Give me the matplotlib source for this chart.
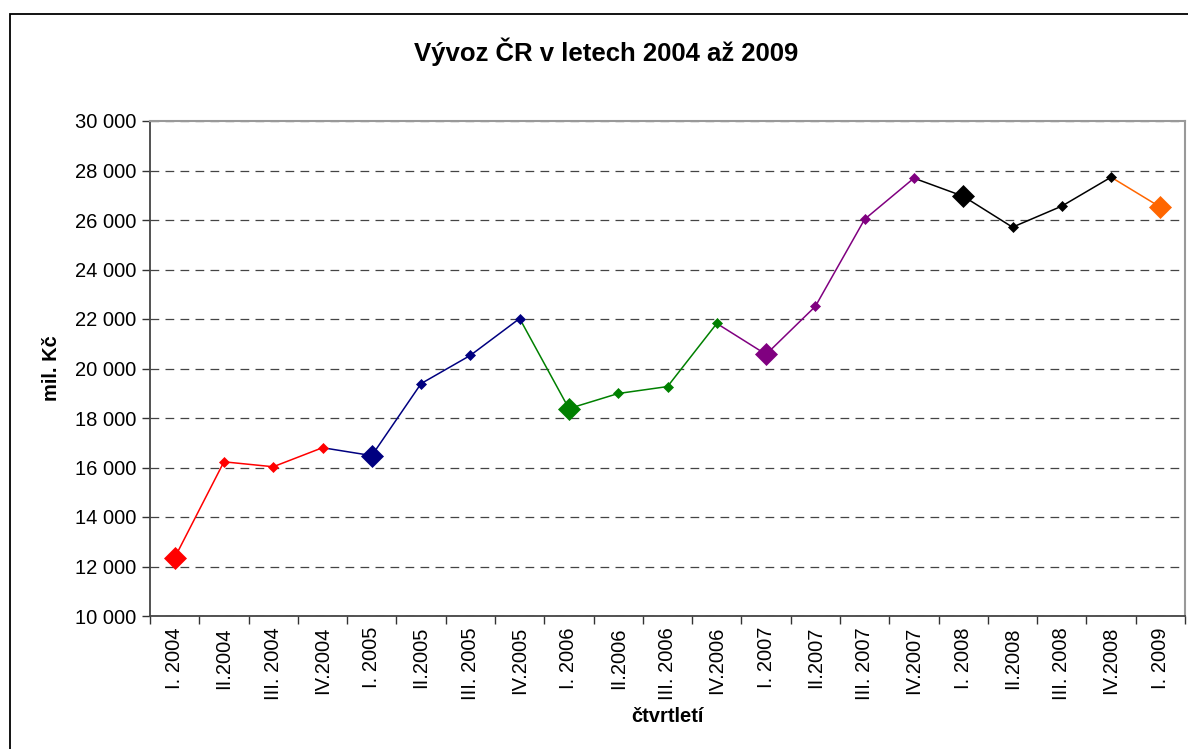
import matplotlib.pyplot as plt
import matplotlib.patches as patches
from matplotlib.ticker import FuncFormatter, MultipleLocator

plt.rcParams['font.family'] = ['Liberation Sans', 'DejaVu Sans']

quarters = ['I. 2004', 'II.2004', 'III. 2004', 'IV.2004',
            'I. 2005', 'II.2005', 'III. 2005', 'IV.2005',
            'I. 2006', 'II.2006', 'III. 2006', 'IV.2006',
            'I. 2007', 'II.2007', 'III. 2007', 'IV.2007',
            'I. 2008', 'II.2008', 'III. 2008', 'IV.2008',
            'I. 2009']
vyvoz = [12350, 16230, 16030, 16800,
         16480, 19390, 20530, 22020,
         18380, 18990, 19270, 21820,
         20570, 22510, 26030, 27690,
         26960, 25710, 26560, 27730,
         26520]
years = [2004] * 4 + [2005] * 4 + [2006] * 4 + [2007] * 4 + [2008] * 4 + [2009]
year_colors = {2004: '#FF0000', 2005: '#000080', 2006: '#008000',
               2007: '#800080', 2008: '#000000', 2009: '#FF6600'}

fig = plt.figure(figsize=(11.88, 7.49), dpi=100)
ax = fig.add_axes([150 / 1188, 1 - 616 / 749, 1035 / 1188, 495 / 749])

x = list(range(len(quarters)))

# lines: segment into a point takes the colour of that point's year
for yr, col in year_colors.items():
    idx = [i for i in x if years[i] == yr]
    start = max(idx[0] - 1, 0)
    seg = list(range(start, idx[-1] + 1))
    ax.plot(seg, [vyvoz[i] for i in seg], color=col, lw=1.1, zorder=3)

# markers: big diamond for the first quarter of each year
for i in x:
    col = year_colors[years[i]]
    big = quarters[i].startswith('I. ')
    ax.plot(i, vyvoz[i], marker='D', ms=11 if big else 5.2, color=col,
            mec=col, mew=0.5, zorder=4)

ax.set_xlim(-0.5, len(quarters) - 0.5)
ax.set_ylim(10000, 30000)
ax.yaxis.set_major_locator(MultipleLocator(2000))
ax.yaxis.set_major_formatter(FuncFormatter(lambda v, p: f'{int(v):,}'.replace(',', ' ')))
ax.grid(axis='y', color='#444444', ls=(0, (7, 5)), lw=0.9)
ax.set_axisbelow(True)

ax.set_xticks(x)
ax.set_xticklabels(quarters, rotation=90, fontsize=14.5)
ax.set_xticks([i - 0.5 for i in range(len(quarters) + 1)], minor=True)
ax.tick_params(axis='x', which='major', length=0, pad=8)
ax.tick_params(axis='x', which='minor', length=6, width=1, color='#333333')
ax.tick_params(axis='y', length=6, width=1, color='#333333', labelsize=14.5, pad=4)

for s in ['top', 'right']:
    ax.spines[s].set_color('#999999')
    ax.spines[s].set_linewidth(1.5)
for s in ['left', 'bottom']:
    ax.spines[s].set_color('#444444')
    ax.spines[s].set_linewidth(1.3)

ax.set_ylabel('mil. Kč', fontsize=14.5, fontweight='bold', labelpad=10)
ax.set_xlabel('čtvrtletí', fontsize=14.5, fontweight='bold', labelpad=5)
fig.text(606 / 1188, 1 - 52 / 749, 'Vývoz ČR v letech 2004 až 2009',
         fontsize=18.5, fontweight='bold', ha='center', va='center')

# outer chart border
fig.patches.append(patches.Rectangle((10 / 1188, -0.05), 1.2, 1 - 14 / 749 + 0.05,
                                     transform=fig.transFigure, fill=False,
                                     ec='black', lw=1.3))

fig.savefig('out.png', dpi=100)
